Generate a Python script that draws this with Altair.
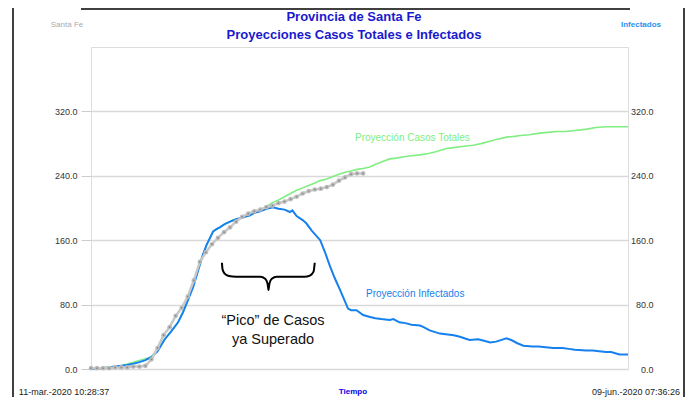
import altair as alt
import pandas as pd

FONT = "Liberation Sans"

# ---- data (days since 13-mar-2020) ----
obs_days = list(range(0, 46))
obs_vals = [1, 1, 1, 1, 2, 2, 2, 3, 3, 4, 12, 26, 42, 52, 66, 76, 90, 110, 133, 145,
            155, 163, 170, 176, 183, 189, 193, 196, 198, 201, 203, 206, 208, 211, 214,
            218, 221, 223, 224, 226, 229, 234, 238, 242, 243, 243]

inf_days = [0, 2, 4, 5, 6, 7, 8, 9, 10, 11, 12.2, 13.3, 14.4, 15.2, 16, 16.9, 17.7, 18.4,
            19.1, 20.2, 20.8, 21.3, 22.1, 23, 24, 25, 26.3, 27, 28, 29, 30.1, 31, 32, 32.9,
            33.3, 34, 35, 35.6, 36.5, 37.9, 38.7, 39.5, 40.3, 41.2, 42.5, 43, 43.9, 45, 46,
            47, 48, 49.4, 50, 51, 52, 53, 54.4, 55, 56, 57.7, 59, 60, 61, 62.6, 64, 65, 66,
            67, 68.7, 69.5, 70.5, 71.5, 73, 74, 76.4, 78, 79, 80, 81.9, 83, 84, 85.2, 86,
            87.4, 88.8]
inf_vals = [0, 1, 3, 4, 5, 6.5, 8.5, 11, 15, 22, 37, 47, 58, 70, 85, 102, 122, 140,
            154, 171, 174, 176, 180, 183, 186, 188, 191, 194, 196, 199, 201, 199, 198, 195,
            197, 190, 185, 181, 172, 160, 145, 128, 113, 98, 75, 73, 73, 67, 65,
            63, 62, 61, 62, 58, 57, 55, 54, 52, 48, 44, 43, 42, 40, 36, 37, 35, 33,
            34, 38, 36, 32, 29, 28, 28, 26, 26, 25, 24, 23, 23, 22, 21, 21,
            18, 18]

tot_days = [0, 5, 10, 12.2, 14.4, 16, 17.7, 19.1, 20.2, 21.3, 22.1, 23.5, 25, 26.3, 27,
            28, 29, 30.1, 31, 32, 33, 34, 35, 36, 37, 37.9, 39, 40, 41, 42.3, 43, 44, 45,
            46.1, 47, 48, 49.4, 50.5, 52, 53, 54.4, 56, 57, 58.8, 60, 61, 62, 63.2, 64.5,
            66, 67, 68.7, 70, 71, 72.5, 74.2, 75.5, 77, 78.5, 79.7, 81, 82, 83.5, 85.2, 88.8]
tot_vals = [0, 4, 15, 37, 58, 85, 122, 154, 171, 176, 180, 185, 188, 191, 194, 198, 202,
            207, 210, 214, 218, 222, 225, 228, 231, 234, 236, 239, 242, 245, 246, 248, 249,
            251, 254, 257, 261, 262, 264, 265, 266, 268, 270, 274, 275, 276, 277, 278, 280,
            283, 285, 288, 289, 290, 291, 293, 294, 295, 295, 296, 297, 298, 300, 301, 301]

brace_x = [21.65, 21.75, 22.1, 22.8, 24, 28, 28.8, 29.2, 29.35, 29.5, 29.9, 30.7, 35.3,
           36.2, 36.8, 37.0]
brace_y = [132, 124, 118.5, 115.5, 114.5, 114.5, 112, 106, 98, 106, 112, 114.5, 114.5,
           116, 121, 132]

tick_days = [0, 21, 42, 63, 84]
tick_labels = ["13-mar.-2020", "03-abr.-2020", "24-abr.-2020", "14-may.-2020", "04-jun.-2020"]
y_ticks = [0, 80, 160, 240, 320]

obs = pd.DataFrame({"d": obs_days, "v": obs_vals})
inf = pd.DataFrame({"d": inf_days, "v": inf_vals})
tot = pd.DataFrame({"d": tot_days, "v": tot_vals})
brace = pd.DataFrame({"d": brace_x, "v": brace_y, "o": list(range(len(brace_x)))})
one = pd.DataFrame({"a": [0]})

label_expr = "[" + ",".join("'%s'" % t for t in tick_labels) + "][round(datum.value/21)]"

xscale = alt.Scale(domain=[0, 88.8], nice=False, zero=False)
yscale = alt.Scale(domain=[0, 400], nice=False)

x_axis = alt.Axis(values=tick_days, labelExpr=label_expr, title=None, grid=True,
                  gridColor="#d6d6d6", gridWidth=1.5, domain=False, ticks=False,
                  labelFontSize=9, labelColor="#333333", labelFont=FONT, labelPadding=4)
y_left = alt.Axis(values=y_ticks, format=".1f", title=None, grid=True, gridColor="#d9d9d9",
                  gridWidth=1.5, domain=False, tickSize=10, tickColor="#cccccc",
                  labelFontSize=9, labelColor="#333333", labelFont=FONT, labelPadding=4,
                  orient="left")
y_right = alt.Axis(values=y_ticks, format=".1f", title=None, grid=False, domain=False,
                   ticks=False, labelFontSize=9, labelColor="#333333", labelFont=FONT,
                   labelAlign="right", labelPadding=25, orient="right")

X = alt.X("d:Q", scale=xscale, axis=x_axis)

base_left = alt.Chart(tot).mark_line(color="#80ee80", strokeWidth=1.6).encode(
    x=X, y=alt.Y("v:Q", scale=yscale, axis=y_left))

right_axis_layer = alt.Chart(tot).mark_line(opacity=0).encode(
    x=alt.X("d:Q", scale=xscale, axis=None), y=alt.Y("v:Q", scale=yscale, axis=y_right))

inf_line = alt.Chart(inf).mark_line(color="#1580ee", strokeWidth=2).encode(
    x=alt.X("d:Q", scale=xscale, axis=None), y=alt.Y("v:Q", scale=yscale, axis=None))

obs_line = alt.Chart(obs).mark_line(color="#c8c8c8", strokeWidth=2.5).encode(
    x=alt.X("d:Q", scale=xscale, axis=None), y=alt.Y("v:Q", scale=yscale, axis=None))
obs_pts = alt.Chart(obs).mark_circle(color="#bdbdbd", size=22, opacity=1).encode(
    x=alt.X("d:Q", scale=xscale, axis=None), y=alt.Y("v:Q", scale=yscale, axis=None))
obs_ctr = alt.Chart(obs).mark_circle(color="#8a8a8a", size=3, opacity=1).encode(
    x=alt.X("d:Q", scale=xscale, axis=None), y=alt.Y("v:Q", scale=yscale, axis=None))

brace_line = alt.Chart(brace).mark_line(color="black", strokeWidth=2, interpolate="monotone").encode(
    x=alt.X("d:Q", scale=xscale, axis=None), y=alt.Y("v:Q", scale=yscale, axis=None),
    order="o:Q")


def txt(text, px, py, size, color, weight="normal", align="center"):
    return alt.Chart(one).mark_text(text=text, fontSize=size, color=color, fontWeight=weight,
                                    align=align, baseline="middle", font=FONT).encode(
        x=alt.value(px), y=alt.value(py))


texts = [
    txt("Provincia de Santa Fe", 263, -30, 13, "#1a1acc", "bold"),
    txt("Proyecciones Casos Totales e Infectados", 263, -12, 13, "#1a1acc", "bold"),
    txt("Santa Fe", -24, -22, 8, "#aaaaaa"),
    txt("Infectados", 550, -22, 8, "#2f8ff0", "bold"),
    txt("Tiempo", 262, 345, 8, "#0000ee", "bold"),
    txt("11-mar.-2020 10:28:37", -27, 345, 9, "#222222"),
    txt("09-jun.-2020 07:36:26", 545, 345, 9, "#222222"),
    txt("Proyección Casos Totales", 264, 91, 10, "#80ee80", align="left"),
    txt("Proyección Infectados", 275, 247, 10, "#1580ee", align="left"),
    txt("\u201cPico\u201d de Casos", 182, 274, 14.5, "#111111"),
    txt("ya Superado", 182, 293, 14.5, "#111111"),
]

frame = [
    alt.Chart(one).mark_rule(color="black", strokeWidth=1.5).encode(
        x=alt.value(-78), y=alt.value(-39), y2=alt.value(352)),
    alt.Chart(one).mark_rule(color="black", strokeWidth=1.5).encode(
        x=alt.value(-10), x2=alt.value(539), y=alt.value(-38), y2=alt.value(-38)),
    alt.Chart(one).mark_rule(color="black", strokeWidth=1.5).encode(
        x=alt.value(593), y=alt.value(-39), y2=alt.value(352)),
]

chart = alt.layer(
    base_left, right_axis_layer, inf_line, obs_line, obs_pts, obs_ctr, brace_line,
    *texts, *frame
).resolve_axis(y="independent").properties(
    width=537, height=322,
    autosize=alt.AutoSizeParams(type="none"),
    padding={"left": 83, "top": 39, "right": 58, "bottom": 28},
).configure_view(stroke="#d6d6d6", strokeWidth=1.5).configure(background="white")

chart.save("out.html", embed_options={"renderer": "svg", "actions": False})
